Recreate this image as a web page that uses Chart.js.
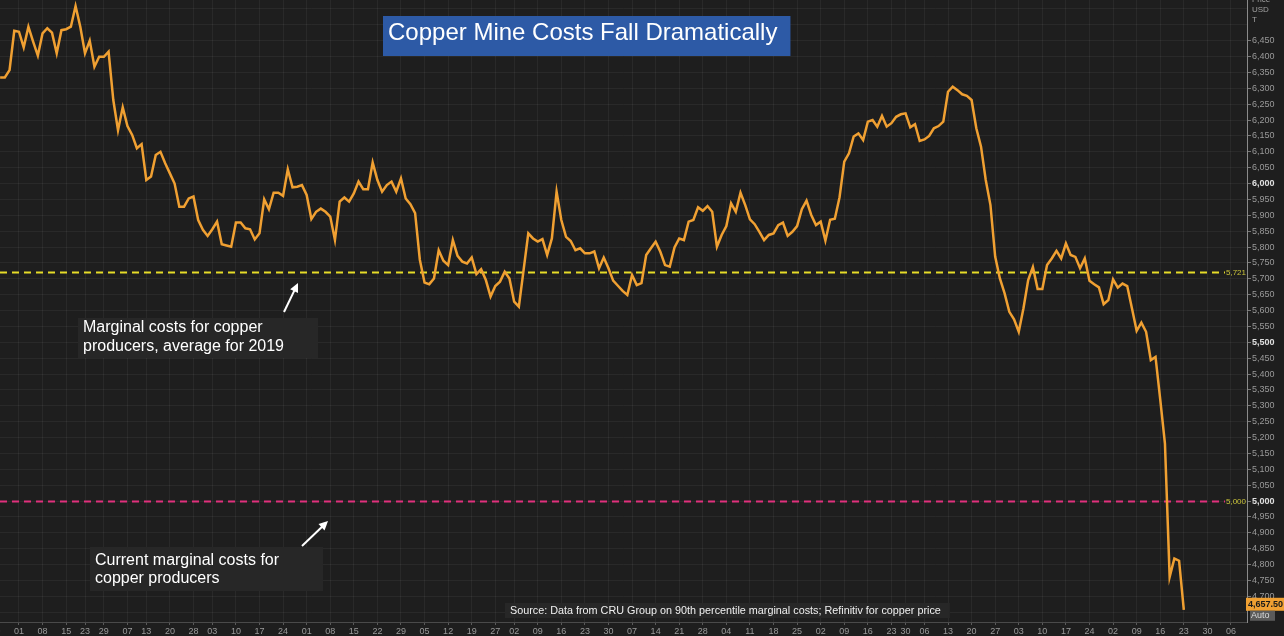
<!DOCTYPE html>
<html>
<head>
<meta charset="utf-8">
<title>Copper Mine Costs Fall Dramatically</title>
<script src="https://cdn.jsdelivr.net/npm/chart.js@4/dist/chart.umd.min.js"></script>
<style>
    html, body { margin: 0; padding: 0; background: #1e1e1e; overflow: hidden; }
    #wrap { width: 1284px; height: 636px; position: relative; }
</style>
</head>
<body>
<div id="wrap"><canvas id="chart"></canvas></div>
<script>
// Copper price, USD/t, one close per trading day (day 1 = 26 Mar 2019)
const firstDay = 1;
const copperPrice = [
    6334, 6334, 6357, 6481, 6478, 6429, 6494, 6447, 6403, 6473,
    6489, 6475, 6410, 6483, 6486, 6494, 6559, 6494, 6410, 6450,
    6368, 6399, 6399, 6415, 6263, 6168, 6240, 6181, 6153, 6111,
    6124, 6011, 6022, 6090, 6100, 6064, 6032, 6000, 5927, 5927,
    5953, 5959, 5885, 5854, 5835, 5856, 5880, 5809, 5805, 5801,
    5877, 5877, 5859, 5856, 5824, 5843, 5950, 5919, 5971, 5971,
    5961, 6045, 5988, 5990, 5995, 5964, 5888, 5911, 5921, 5911,
    5896, 5822, 5943, 5956, 5943, 5969, 6006, 5982, 5982, 6066,
    6011, 5974, 5995, 6006, 5974, 6016, 5953, 5935, 5907, 5760,
    5688, 5683, 5701, 5790, 5757, 5743, 5822, 5772, 5754, 5748,
    5767, 5715, 5730, 5696, 5644, 5677, 5691, 5722, 5701, 5628,
    5612, 5727, 5843, 5827, 5817, 5825, 5775, 5827, 5974, 5885,
    5832, 5819, 5790, 5796, 5780, 5780, 5786, 5733, 5767, 5733,
    5694, 5678, 5662, 5649, 5712, 5680, 5686, 5775, 5796, 5817,
    5785, 5743, 5738, 5799, 5827, 5822, 5880, 5885, 5925, 5914,
    5929, 5911, 5801, 5838, 5866, 5938, 5911, 5971, 5932, 5887,
    5872, 5848, 5822, 5838, 5843, 5869, 5877, 5835, 5848, 5866,
    5919, 5946, 5901, 5869, 5880, 5820, 5886, 5889, 5957, 6069,
    6095, 6148, 6158, 6137, 6195, 6200, 6179, 6213, 6179, 6190,
    6210, 6218, 6221, 6177, 6187, 6134, 6139, 6150, 6174, 6181,
    6195, 6289, 6305, 6294, 6281, 6276, 6263, 6174, 6116, 6011,
    5932, 5770, 5701, 5654, 5596, 5572, 5533, 5607, 5696, 5737,
    5668, 5668, 5743, 5764, 5788, 5764, 5811, 5775, 5769, 5733,
    5764, 5694, 5683, 5673, 5620, 5633, 5698, 5672, 5685, 5677,
    5607, 5536, 5562, 5533, 5444, 5454, 5320, 5181, 4761, 4819,
    4812, 4657.5
];

// weekly date ticks: trading-day number and day-of-month label
const weekTickDays = [0, 5, 10, 15, 19, 23, 28, 32, 37, 42, 46, 51, 56, 61, 66, 71, 76, 81, 86,
    91, 96, 101, 106, 110, 115, 120, 125, 130, 135, 140, 145, 150, 155, 160, 165, 170,
    175, 180, 185, 190, 193, 197, 202, 207, 212, 217, 222, 227, 232, 237, 242, 247, 252, 257, 262];
const weekTickLabels = ['25', '01', '08', '15', '23', '29', '07', '13', '20', '28', '03', '10', '17', '24',
    '01', '08', '15', '22', '29', '05', '12', '19', '27', '02', '09', '16', '23', '30', '07', '14', '21', '28',
    '04', '11', '18', '25', '02', '09', '16', '23', '30', '06', '13', '20', '27', '03', '10', '17', '24',
    '02', '09', '16', '23', '30', '06'];

// marginal cost levels (USD/t)
const avgCost2019 = 5721;
const currentCost = 5000;
const majorPriceTicks = [5000, 5500, 6000];

const FONT = '"Liberation Sans", Arial, sans-serif';

function box(ctx, x, y, w, h, fill) {
    ctx.fillStyle = fill;
    ctx.fillRect(x, y, w, h);
}

function arrow(ctx, x1, y1, x2, y2) {
    const ang = Math.atan2(y2 - y1, x2 - x1);
    ctx.save();
    ctx.strokeStyle = '#ffffff';
    ctx.fillStyle = '#ffffff';
    ctx.lineWidth = 2;
    ctx.beginPath();
    ctx.moveTo(x1, y1);
    ctx.lineTo(x2 - 6 * Math.cos(ang), y2 - 6 * Math.sin(ang));
    ctx.stroke();
    ctx.beginPath();
    ctx.moveTo(x2, y2);
    ctx.lineTo(x2 - 10 * Math.cos(ang - 0.45), y2 - 10 * Math.sin(ang - 0.45));
    ctx.lineTo(x2 - 10 * Math.cos(ang + 0.45), y2 - 10 * Math.sin(ang + 0.45));
    ctx.closePath();
    ctx.fill();
    ctx.restore();
}

const overlay = {
    id: 'overlay',
    beforeDatasetsDraw(chart) {
        const { ctx, chartArea: a, scales: { y } } = chart;
        // cost levels as dashed lines
        [[avgCost2019, '#e6dc28'], [currentCost, '#e0307c']].forEach(([v, col]) => {
            const py = Math.round(y.getPixelForValue(v)) + 0.5;
            ctx.save();
            ctx.strokeStyle = col;
            ctx.lineWidth = 2;
            ctx.setLineDash([7, 5]);
            ctx.beginPath();
            ctx.moveTo(a.left, py);
            ctx.lineTo(a.right - 22, py);
            ctx.stroke();
            ctx.restore();
        });
    },
    afterDraw(chart) {
        const { ctx, chartArea: a, scales: { x, y } } = chart;
        ctx.save();

        // level labels at the right edge of the plot
        ctx.font = '8px ' + FONT;
        ctx.textAlign = 'right';
        ctx.textBaseline = 'middle';
        [avgCost2019, currentCost].forEach(v => {
            const py = y.getPixelForValue(v);
            ctx.fillStyle = '#c9c23a';
            ctx.fillText(v.toLocaleString('en-US'), a.right - 1, py + 1);
        });

        // date labels that fall outside the x range
        ctx.font = '9px ' + FONT;
        ctx.textAlign = 'center';
        ctx.textBaseline = 'top';
        ctx.fillStyle = '#9a9a9a';
        weekTickDays.forEach((d, i) => {
            if (d < x.min) ctx.fillText(weekTickLabels[i], x.getPixelForValue(d), a.bottom + 4);
        });

        // axis header
        ctx.textAlign = 'left';
        ctx.fillStyle = '#a0a0a0';
        ctx.font = '8px ' + FONT;
        ctx.fillText('Price', a.right + 5, -4);
        ctx.fillText('USD', a.right + 5, 6);
        ctx.fillText('T', a.right + 5, 16);

        // last price tag
        const last = copperPrice[copperPrice.length - 1];
        const ly = Math.min(y.getPixelForValue(last), a.bottom - 12) - 6;
        box(ctx, a.right - 1, ly - 6, 40, 13, '#f0a032');
        ctx.fillStyle = '#1a1a1a';
        ctx.font = 'bold 9px ' + FONT;
        ctx.textBaseline = 'middle';
        ctx.fillText(last.toLocaleString('en-US', { minimumFractionDigits: 2 }), a.right + 1, ly + 1);
        box(ctx, a.right + 3, ly + 7, 25, 10, '#5a5a5a');
        ctx.fillStyle = '#dcdcdc';
        ctx.font = '9px ' + FONT;
        ctx.fillText('Auto', a.right + 4, ly + 12);

        // title
        ctx.font = '24px ' + FONT;
        ctx.textBaseline = 'middle';
        const title = 'Copper Mine Costs Fall Dramatically';
        const tw = ctx.measureText(title).width;
        box(ctx, 383, 16, tw + 18, 40, '#2d5aa6');
        ctx.fillStyle = '#ffffff';
        ctx.fillText(title, 388, 33);

        // annotations
        ctx.font = '16px ' + FONT;
        box(ctx, 78, 318, 240, 40, '#272727');
        ctx.fillStyle = '#ffffff';
        ctx.fillText('Marginal costs for copper', 83, 328);
        ctx.fillText('producers, average for 2019', 83, 347);
        box(ctx, 90, 547, 233, 44, '#272727');
        ctx.fillStyle = '#ffffff';
        ctx.fillText('Current marginal costs for', 95, 561);
        ctx.fillText('copper producers', 95, 579);
        arrow(ctx, 284, 312, 298, 283);
        arrow(ctx, 302, 546, 328, 521);

        // source note
        ctx.font = '10.8px ' + FONT;
        const src = 'Source: Data from CRU Group on 90th percentile marginal costs; Refinitiv for copper price';
        const sw = ctx.measureText(src).width;
        box(ctx, 505, 603, sw + 14, 15, '#272727');
        ctx.fillStyle = '#f0f0f0';
        ctx.fillText(src, 510, 611);

        ctx.restore();
    }
};

new Chart(document.getElementById('chart'), {
    type: 'line',
    data: {
        datasets: [{
            data: copperPrice.map((v, i) => ({ x: firstDay + i, y: v })),
            borderColor: '#f0a032',
            borderWidth: 2.5,
            pointRadius: 0,
            tension: 0,
            fill: false
        }]
    },
    options: {
        responsive: true,
        maintainAspectRatio: false,
        animation: false,
        layout: { padding: 0 },
        plugins: { legend: { display: false }, tooltip: { enabled: false } },
        scales: {
            x: {
                type: 'linear',
                min: 0.975,
                max: 265.4,
                afterBuildTicks: s => {
                    s.ticks = weekTickDays.filter(d => d >= s.min && d <= s.max).map(d => ({ value: d }));
                },
                afterFit: s => { s.height = 14; s.paddingLeft = 0; s.paddingRight = 0; },
                border: { display: true, color: '#4a4a4a' },
                grid: { color: 'rgba(255,255,255,0.05)', tickLength: 3, tickColor: '#5a5a5a' },
                ticks: {
                    autoSkip: false,
                    maxRotation: 0,
                    padding: 1,
                    color: '#9a9a9a',
                    font: { family: FONT, size: 9 },
                    callback: v => weekTickLabels[weekTickDays.indexOf(v)] || ''
                }
            },
            y: {
                position: 'right',
                min: 4619,
                max: 6578,
                afterBuildTicks: s => {
                    const t = [];
                    for (let v = 4650; v <= 6550; v += 50) t.push({ value: v });
                    s.ticks = t;
                },
                afterFit: s => { s.width = 37; s.paddingTop = 0; s.paddingBottom = 0; },
                border: { display: true, color: '#8a8a8a' },
                grid: {
                    color: 'rgba(255,255,255,0.05)',
                    tickLength: 4,
                    tickColor: c => (c.tick && (c.tick.value > 6450 || c.tick.value < 4700)) ? 'rgba(0,0,0,0)' : '#777'
                },
                ticks: {
                    padding: 1,
                    color: c => (c.tick && majorPriceTicks.includes(c.tick.value)) ? '#e0e0e0' : '#9a9a9a',
                    font: c => ({ family: FONT, size: 9, weight: (c.tick && majorPriceTicks.includes(c.tick.value)) ? 'bold' : 'normal' }),
                    callback: v => (v > 6450 || v < 4700) ? '' : v.toLocaleString('en-US')
                }
            }
        }
    },
    plugins: [overlay]
});
</script>
</body>
</html>
